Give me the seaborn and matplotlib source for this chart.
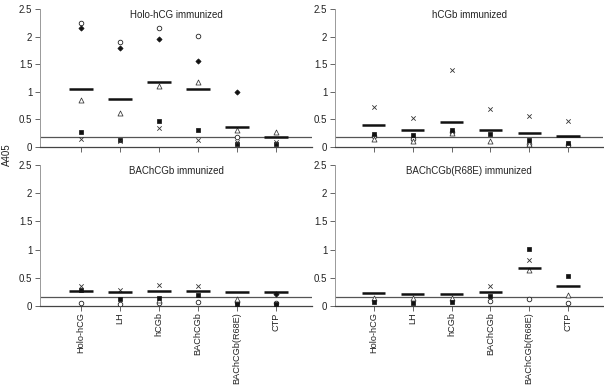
import numpy as np
import pandas as pd
import matplotlib
matplotlib.use("Agg")
import matplotlib.pyplot as plt
import seaborn as sns

nan = np.nan

# categories on the x axis (antigen coated on the plate)
categories = ["Holo-hCG", "LH", "hCGb", "BAChCGb", "BAChCGb(R68E)", "CTP"]

# one series per animal (nan = hidden / not visible)
holo_imm = {
    "circle":   [2.24, 1.91, 2.15, 2.01, 0.18, nan],
    "diamond":  [2.16, 1.79, 1.96, 1.56, 0.99, nan],
    "triangle": [0.85, 0.61, 1.10, 1.17, 0.30, 0.27],
    "square":   [0.27, 0.12, 0.48, 0.30, 0.05, 0.05],
    "cross":    [0.15, 0.10, 0.35, 0.13, 0.09, 0.09],
}
holo_imm_mean = [1.05, 0.87, 1.17, 1.05, 0.37, 0.18]

hcgb_imm = {
    "circle":   [0.20, 0.14, 0.27, nan, 0.05, 0.04],
    "diamond":  [nan, nan, nan, nan, nan, nan],
    "triangle": [0.15, 0.11, 0.25, 0.11, 0.05, nan],
    "square":   [0.23, 0.21, 0.31, 0.23, 0.13, 0.07],
    "cross":    [0.73, 0.53, 1.39, 0.69, 0.57, 0.47],
}
hcgb_imm_mean = [0.39, 0.31, 0.45, 0.30, 0.26, 0.20]

bac_imm = {
    "circle":   [0.06, 0.04, 0.05, 0.07, 0.07, 0.05],
    "diamond":  [nan, nan, nan, nan, nan, 0.21],
    "triangle": [nan, nan, 0.10, nan, 0.13, nan],
    "square":   [0.28, 0.13, 0.15, 0.20, 0.04, 0.03],
    "cross":    [0.35, 0.28, 0.38, 0.35, nan, nan],
}
bac_imm_mean = [0.26, 0.24, 0.27, 0.27, 0.24, 0.24]

r68e_imm = {
    "circle":   [nan, nan, nan, 0.08, 0.13, 0.05],
    "diamond":  [nan, nan, nan, nan, nan, nan],
    "triangle": [0.14, 0.14, 0.14, nan, 0.63, 0.20],
    "square":   [0.07, 0.05, 0.07, 0.17, 1.01, 0.53],
    "cross":    [nan, nan, nan, 0.36, 0.81, nan],
}
r68e_imm_mean = [0.23, 0.21, 0.21, 0.24, 0.67, 0.35]

titles = ["Holo-hCG immunized", "hCGb immunized",
          "BAChCGb immunized", "BAChCGb(R68E) immunized"]
cutoffs = [0.18, 0.18, 0.165, 0.155]

# marker styles for each animal
styles = {
    "circle":   dict(marker="o", facecolor="white", edgecolor="#222222", s=11, linewidth=0.6),
    "diamond":  dict(marker="D", facecolor="#111111", edgecolor="#111111", s=7, linewidth=0.5),
    "triangle": dict(marker="^", facecolor="white", edgecolor="#333333", s=13, linewidth=0.55),
    "square":   dict(marker="s", facecolor="#111111", edgecolor="#111111", s=9, linewidth=0.5),
    "cross":    dict(marker="x", color="#333333", s=10, linewidth=0.6),
}

sns.set_theme(style="white")
plt.rcParams["font.family"] = ["Liberation Sans", "DejaVu Sans"]

fig = plt.figure(figsize=(6.04, 3.89), dpi=100)
W, H = 604.0, 389.0
# panel boxes in pixels: left, top, right, bottom, xlim
boxes = [
    (40, 9, 312, 147, -1.05, 5.92),
    (335, 9, 603, 147, -1.0, 5.9),
    (40, 165, 312, 306, -1.05, 5.92),
    (335, 165, 603, 306, -1.0, 5.9),
]
panels = [(holo_imm, holo_imm_mean), (hcgb_imm, hcgb_imm_mean),
          (bac_imm, bac_imm_mean), (r68e_imm, r68e_imm_mean)]

for k, ((series, means), (x0, y0, x1, y1, xa, xb)) in enumerate(zip(panels, boxes)):
    ax = fig.add_axes([x0 / W, 1 - y1 / H, (x1 - x0) / W, (y1 - y0) / H])
    xpos = np.arange(len(categories))
    for name, vals in series.items():
        df = pd.DataFrame({"x": xpos, "y": vals}).dropna()
        if len(df):
            sns.scatterplot(data=df, x="x", y="y", ax=ax, legend=False,
                            zorder=3, **styles[name])
    # group means
    ax.hlines(means, xpos - 0.3, xpos + 0.3, color="#111111", lw=1.8, zorder=4)
    # cutoff line
    ax.axhline(cutoffs[k], color="#555555", lw=0.9, zorder=2)

    ax.set_xlim(xa, xb)
    ax.set_ylim(0, 2.5)
    ax.set_yticks([0, 0.5, 1, 1.5, 2, 2.5])
    ax.set_yticklabels(["0", "0.5", "1", "1.5", "2", "2.5"])
    ax.set_xticks(xpos)
    if k >= 2:
        ax.set_xticklabels(categories, rotation=90, fontsize=6.6)
    else:
        ax.set_xticklabels([])
    ax.set_xlabel("")
    ax.set_ylabel("")
    ax.tick_params(axis="both", which="both", direction="out", length=3.5,
                   width=0.7, color="#666666", labelsize=7, labelcolor="#222222",
                   bottom=True, left=True, pad=2)
    ax.tick_params(axis="x", pad=1, labelsize=6.6)
    for s in ["top", "right"]:
        ax.spines[s].set_visible(False)
    ax.spines["left"].set_color("#999999")
    ax.spines["left"].set_linewidth(0.7)
    ax.spines["bottom"].set_color("#444444")
    ax.spines["bottom"].set_linewidth(0.9)
    ax.text(0.5, 0.995, titles[k], transform=ax.transAxes, ha="center", va="top",
            fontsize=7, color="#222222")
    ax.patch.set_alpha(0)

fig.text(7 / W, 1 - 155 / H, "A405", rotation=90, ha="center", va="center",
         fontsize=7, color="#222222")

fig.savefig("out.png", dpi=100, facecolor="white")
